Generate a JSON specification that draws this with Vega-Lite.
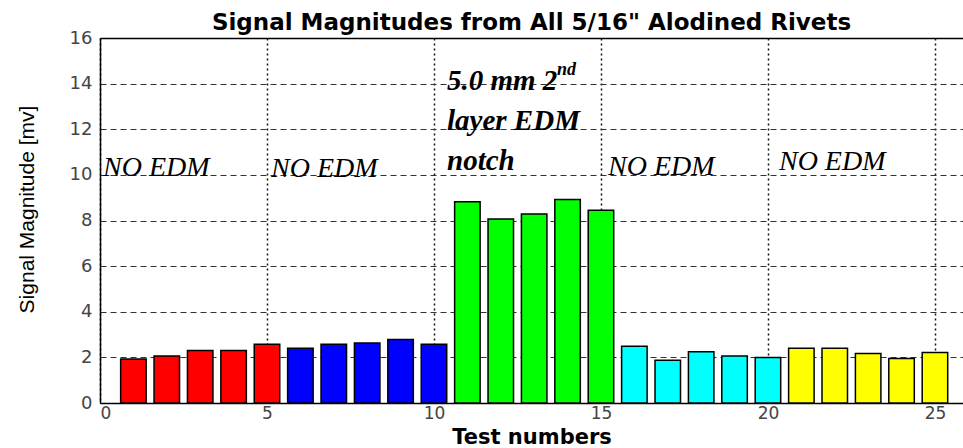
{
  "$schema": "https://vega.github.io/schema/vega-lite/v6.json",
  "width": 863,
  "height": 365,
  "autosize": {"type": "none"},
  "padding": {"left": 100, "top": 38, "right": 0, "bottom": 45},
  "title": {"text": "Signal Magnitudes from All 5/16\" Alodined Rivets", "font": "DejaVu Sans", "fontSize": 23, "fontWeight": "bold", "color": "black", "offset": -6, "anchor": "middle"},
  "config": {
    "view": {"stroke": null},
    "scale": {"continuousPadding": 0},
    "axis": {"domainColor": "black", "domainWidth": 1.5, "ticks": false, "gridColor": "#333", "gridWidth": 1.2, "gridOpacity": 1, "labelFont": "DejaVu Sans", "labelFontSize": 18, "labelColor": "#444"}
  },
  "datasets": {
    "bars": [
      {"test": 1, "mv": 1.93, "group": "1-5"},
      {"test": 2, "mv": 2.06, "group": "1-5"},
      {"test": 3, "mv": 2.3, "group": "1-5"},
      {"test": 4, "mv": 2.3, "group": "1-5"},
      {"test": 5, "mv": 2.57, "group": "1-5"},
      {"test": 6, "mv": 2.4, "group": "6-10"},
      {"test": 7, "mv": 2.57, "group": "6-10"},
      {"test": 8, "mv": 2.63, "group": "6-10"},
      {"test": 9, "mv": 2.78, "group": "6-10"},
      {"test": 10, "mv": 2.57, "group": "6-10"},
      {"test": 11, "mv": 8.82, "group": "11-15"},
      {"test": 12, "mv": 8.07, "group": "11-15"},
      {"test": 13, "mv": 8.29, "group": "11-15"},
      {"test": 14, "mv": 8.92, "group": "11-15"},
      {"test": 15, "mv": 8.45, "group": "11-15"},
      {"test": 16, "mv": 2.49, "group": "16-20"},
      {"test": 17, "mv": 1.87, "group": "16-20"},
      {"test": 18, "mv": 2.25, "group": "16-20"},
      {"test": 19, "mv": 2.06, "group": "16-20"},
      {"test": 20, "mv": 1.99, "group": "16-20"},
      {"test": 21, "mv": 2.4, "group": "21-25"},
      {"test": 22, "mv": 2.4, "group": "21-25"},
      {"test": 23, "mv": 2.17, "group": "21-25"},
      {"test": 24, "mv": 1.95, "group": "21-25"},
      {"test": 25, "mv": 2.21, "group": "21-25"}
    ],
    "noedm": [
      {"x": 0.09, "y": 9.94, "label": "NO EDM"},
      {"x": 5.12, "y": 9.9, "label": "NO EDM"},
      {"x": 15.21, "y": 9.99, "label": "NO EDM"},
      {"x": 20.33, "y": 10.2, "label": "NO EDM"}
    ],
    "notch": [
      {"x": 10.39, "y": 13.71, "label": "5.0 mm 2"},
      {"x": 10.39, "y": 11.95, "label": "layer EDM"},
      {"x": 10.39, "y": 10.2, "label": "notch"}
    ],
    "sup": [
      {"x": 13.68, "y": 14.37, "label": "nd"}
    ]
  },
  "resolve": {"axis": {"x": "independent", "y": "independent"}},
  "layer": [
    {
      "data": {"name": "bars"},
      "mark": {"type": "bar", "size": 25.5, "stroke": "black", "strokeWidth": 1.5},
      "encoding": {
        "x": {"field": "test", "type": "quantitative", "scale": {"domain": [0, 25.84], "nice": false, "zero": false, "padding": 0},
              "axis": {"values": [0, 5, 10, 15, 20, 25], "title": "Test numbers", "grid": true, "gridDash": [2, 3], "gridColor": "#111", "gridWidth": 1.5, "labelPadding": 2, "labelFontSize": 17,
                       "titleFont": "DejaVu Sans", "titleFontSize": 21, "titleFontWeight": "bold", "titleColor": "black", "titleY": 40, "titleBaseline": "alphabetic"}},
        "y": {"field": "mv", "type": "quantitative", "scale": {"domain": [0, 16], "nice": false, "padding": 0},
              "axis": {"values": [0, 2, 4, 6, 8, 10, 12, 14, 16], "title": "Signal Magnitude [mv]", "grid": true, "gridDash": [6, 4], "labelPadding": 8,
                       "titleFont": "Liberation Sans", "titleFontSize": 21, "titleFontWeight": "normal", "titleColor": "black", "titleX": -73, "titleY": 171, "titleAngle": -90, "titleAlign": "center", "titleBaseline": "middle"}},
        "color": {"field": "group", "type": "nominal", "scale": {"domain": ["1-5", "6-10", "11-15", "16-20", "21-25"], "range": ["#ff0000", "#0000ff", "#00ff00", "#00ffff", "#ffff00"]}, "legend": null}
      }
    },
    {
      "data": {"name": "noedm"},
      "mark": {"type": "text", "font": "Liberation Serif", "fontStyle": "italic", "fontSize": 28, "align": "left", "baseline": "alphabetic", "color": "black"},
      "encoding": {
        "x": {"field": "x", "type": "quantitative", "axis": null},
        "y": {"field": "y", "type": "quantitative", "axis": null},
        "text": {"field": "label"}
      }
    },
    {
      "data": {"name": "notch"},
      "mark": {"type": "text", "font": "Liberation Serif", "fontStyle": "italic", "fontWeight": "bold", "fontSize": 29, "align": "left", "baseline": "alphabetic", "color": "black"},
      "encoding": {
        "x": {"field": "x", "type": "quantitative", "axis": null},
        "y": {"field": "y", "type": "quantitative", "axis": null},
        "text": {"field": "label"}
      }
    },
    {
      "data": {"name": "sup"},
      "mark": {"type": "text", "font": "Liberation Serif", "fontStyle": "italic", "fontWeight": "bold", "fontSize": 18, "align": "left", "baseline": "alphabetic", "color": "black"},
      "encoding": {
        "x": {"field": "x", "type": "quantitative", "axis": null},
        "y": {"field": "y", "type": "quantitative", "axis": null},
        "text": {"field": "label"}
      }
    },
    {
      "data": {"values": [{"test": 0}]},
      "mark": {"type": "text", "text": ""},
      "encoding": {
        "x": {"field": "test", "type": "quantitative", "axis": {"orient": "top", "labels": false, "ticks": false, "grid": false, "domain": true, "title": null}}
      }
    }
  ]
}
